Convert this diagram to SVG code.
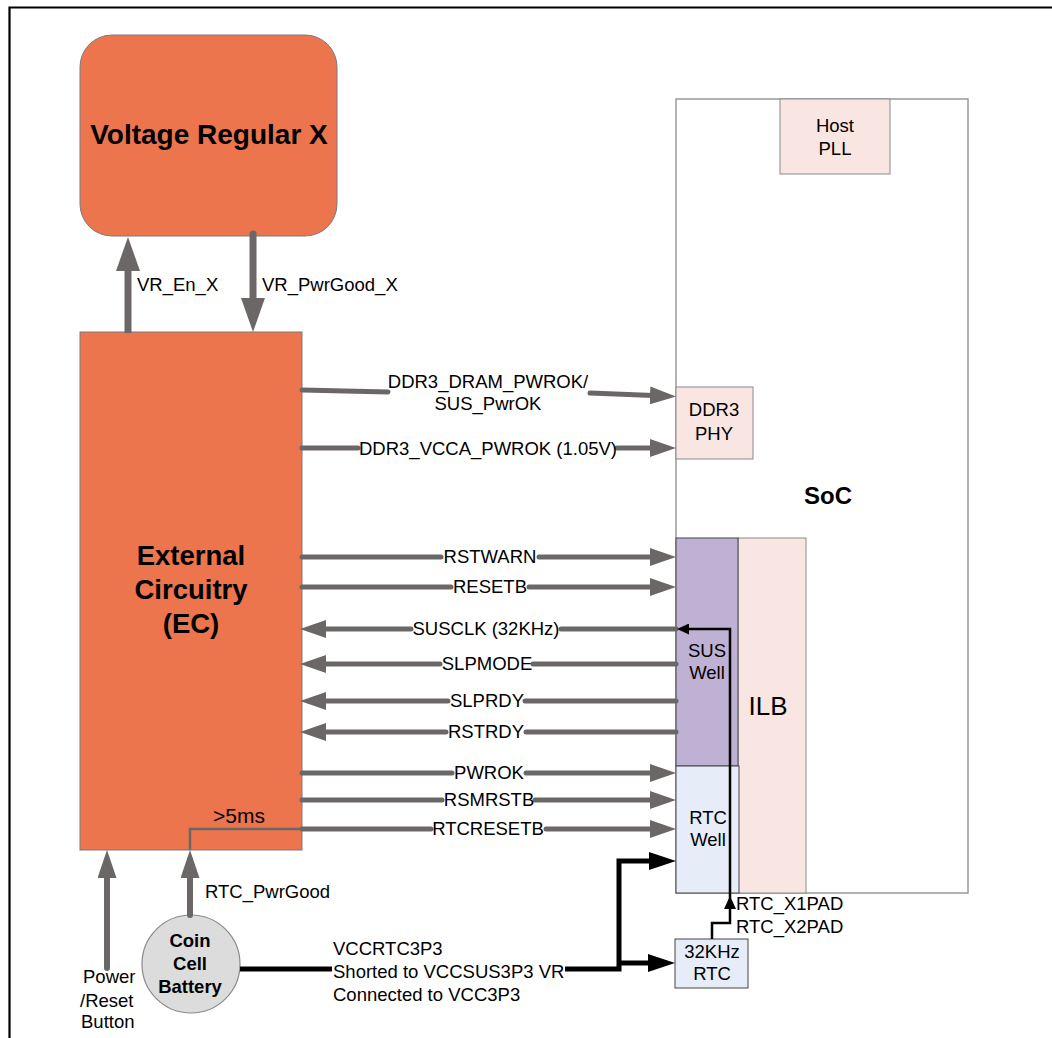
<svg xmlns="http://www.w3.org/2000/svg" width="1052" height="1038" viewBox="0 0 1052 1038">
<style>
text{font-family:"Liberation Sans",Arial,sans-serif;fill:#000}
.lbl{font-size:18.5px}
.mid{text-anchor:middle}
.b{font-weight:bold}
.orange{fill:#ED754E;stroke:#7a7a7a;stroke-width:1}
.g{fill:none;stroke:#6B6767;stroke-width:5;stroke-linecap:round}
.gt{fill:none;stroke:#6B6767;stroke-width:2.5}
.k{fill:none;stroke:#000;stroke-width:5}
.kt{fill:none;stroke:#000;stroke-width:2.5}
</style>
<defs>
<marker id="ag" markerUnits="userSpaceOnUse" markerWidth="26" markerHeight="18" viewBox="0 0 26 18" refX="16" refY="9" orient="auto"><path d="M0,0 L26,9 L0,18 z" fill="#6B6767"/></marker>
<marker id="agBig" markerUnits="userSpaceOnUse" markerWidth="34" markerHeight="24" viewBox="0 0 34 24" refX="19" refY="12" orient="auto"><path d="M0,0 L34,12 L0,24 z" fill="#6B6767"/></marker>
<marker id="agMid" markerUnits="userSpaceOnUse" markerWidth="28" markerHeight="19" viewBox="0 0 28 19" refX="18" refY="9.5" orient="auto"><path d="M0,0 L28,9.5 L0,19 z" fill="#6B6767"/></marker>
<marker id="ak" markerUnits="userSpaceOnUse" markerWidth="27" markerHeight="18" viewBox="0 0 27 18" refX="17" refY="9" orient="auto"><path d="M0,0 L27,9 L0,18 z" fill="#000"/></marker>
<marker id="akS" markerUnits="userSpaceOnUse" markerWidth="12" markerHeight="11" viewBox="0 0 12 11" refX="6" refY="5.5" orient="auto"><path d="M0,0 L12,5.5 L0,11 z" fill="#000"/></marker>
</defs>
<rect width="1052" height="1038" fill="#fff"/>
<g id="frame" fill="none" stroke="#000" stroke-width="2.2">
<path d="M9.5,1038 V7.5 H1052"/>
</g>

<g id="soc">
<rect x="676" y="99" width="292" height="794" fill="#fff" stroke="#9a9a9a" stroke-width="1.5"/>
<text class="b mid" x="828" y="504" style="font-size:24px">SoC</text>
</g>
<g id="host-pll">
<rect x="780" y="99" width="110" height="75" fill="#F9E5E2" stroke="#8a8a8a" stroke-width="1"/>
<text class="lbl mid" x="835" y="132">Host</text>
<text class="lbl mid" x="835" y="155">PLL</text>
</g>
<g id="ddr3-phy">
<rect x="676" y="387" width="77" height="72" fill="#F9E5E2" stroke="#8a8a8a" stroke-width="1"/>
<text class="lbl mid" x="714" y="416">DDR3</text>
<text class="lbl mid" x="714" y="440">PHY</text>
</g>
<g id="ilb">
<rect x="738" y="538" width="68" height="355" fill="#F9E5E2" stroke="#8a8a8a" stroke-width="1"/>
<text class="mid" x="768" y="715" style="font-size:26px">ILB</text>
</g>
<g id="sus-well">
<rect x="676" y="538" width="62" height="228" fill="#BFB1D3" stroke="#444" stroke-width="1"/>
<text class="lbl mid" x="707" y="657">SUS</text>
<text class="lbl mid" x="707" y="679">Well</text>
</g>
<g id="rtc-well">
<rect x="676" y="766" width="63" height="127" fill="#E6EDF8" stroke="#444" stroke-width="1"/>
<text class="lbl mid" x="708" y="824">RTC</text>
<text class="lbl mid" x="708" y="846">Well</text>
</g>
<g id="rtc-32k">
<rect x="675" y="939" width="73" height="49" fill="#E6EDF8" stroke="#444" stroke-width="1"/>
<text class="lbl mid" x="712" y="958">32KHz</text>
<text class="lbl mid" x="712" y="980">RTC</text>
</g>
<g id="vr">
<rect class="orange" x="80" y="35" width="257" height="201" rx="32" ry="32"/>
<text class="b mid" x="209" y="144" style="font-size:28px">Voltage Regular X</text>
</g>
<g id="ec">
<rect class="orange" x="80" y="332" width="222" height="518"/>
<text class="b mid" x="191" y="565" style="font-size:27.5px">External</text>
<text class="b mid" x="191" y="599" style="font-size:27.5px">Circuitry</text>
<text class="b mid" x="191" y="633" style="font-size:27.5px">(EC)</text>
</g>
<g id="battery">
<circle cx="191" cy="964" r="49" fill="#DCDCDC" stroke="#8a8a8a" stroke-width="1.2"/>
<text class="b mid" x="190" y="947" style="font-size:18.5px">Coin</text>
<text class="b mid" x="190" y="970" style="font-size:18.5px">Cell</text>
<text class="b mid" x="190" y="993" style="font-size:18.5px">Battery</text>
</g>
<g id="power-button">
<text class="lbl" x="83" y="983">Power</text>
<text class="lbl" x="80" y="1007">/Reset</text>
<text class="lbl" x="81" y="1028">Button</text>
</g>

<g id="connectors">
<path class="g" d="M128,333 V252" marker-end="url(#agBig)" style="stroke-width:7;stroke-linecap:butt"/>
<path class="g" d="M253,234 V317" marker-end="url(#agBig)" style="stroke-width:7"/>
<text class="lbl" x="137" y="291">VR_En_X</text>
<text class="lbl" x="262" y="291">VR_PwrGood_X</text>

<path class="g" d="M302,390 L388,392"/>
<path class="g" d="M590,393 L666,396" marker-end="url(#ag)"/>
<text class="lbl mid" x="488" y="388">DDR3_DRAM_PWROK/</text>
<text class="lbl mid" x="488" y="410">SUS_PwrOK</text>

<path class="g" d="M302,448 H358"/><path class="g" d="M617,448 H666" marker-end="url(#ag)"/>
<text class="lbl mid" x="488" y="455">DDR3_VCCA_PWROK (1.05V)</text>

<path class="g" d="M302,557 H441"/><path class="g" d="M539,557 H666" marker-end="url(#ag)"/>
<text class="lbl mid" x="490" y="563">RSTWARN</text>

<path class="g" d="M302,587 H451"/><path class="g" d="M529,587 H666" marker-end="url(#ag)"/>
<text class="lbl mid" x="490" y="593">RESETB</text>

<path class="g" d="M676,629 H561"/><path class="g" d="M411,629 H310" marker-end="url(#ag)"/>
<text class="lbl mid" x="486" y="635">SUSCLK (32KHz)</text>

<path class="g" d="M676,664 H533"/><path class="g" d="M440,664 H310" marker-end="url(#ag)"/>
<text class="lbl mid" x="487" y="670">SLPMODE</text>

<path class="g" d="M676,701 H525"/><path class="g" d="M448,701 H310" marker-end="url(#ag)"/>
<text class="lbl mid" x="487" y="707">SLPRDY</text>

<path class="g" d="M676,732 H526"/><path class="g" d="M446,732 H310" marker-end="url(#ag)"/>
<text class="lbl mid" x="486" y="738">RSTRDY</text>

<path class="g" d="M302,773 H452"/><path class="g" d="M526,773 H666" marker-end="url(#ag)"/>
<text class="lbl mid" x="489" y="779">PWROK</text>

<path class="g" d="M302,800 H442"/><path class="g" d="M535,800 H666" marker-end="url(#ag)"/>
<text class="lbl mid" x="489" y="806">RSMRSTB</text>

<path class="gt" d="M190,850 V829 H302"/>
<path class="g" d="M302,829 H431"/><path class="g" d="M546,829 H666" marker-end="url(#ag)"/>
<text class="lbl mid" x="488" y="835">RTCRESETB</text>
<text x="213" y="823" style="font-size:21px">&gt;5ms</text>

<path class="g" d="M107,968 V860" marker-end="url(#agMid)" style="stroke-width:6"/>
<path class="g" d="M190,915 V860" marker-end="url(#agMid)" style="stroke-width:6"/>
<text class="lbl" x="205" y="898">RTC_PwrGood</text>

<path class="k" d="M240,969 H332"/>
<path class="k" d="M565,969 H619 V861 H666" marker-end="url(#ak)"/>
<path class="k" d="M619,963 H665" marker-end="url(#ak)"/>
<text class="lbl" x="333" y="955">VCCRTC3P3</text>
<text class="lbl" x="333" y="978">Shorted to VCCSUS3P3 VR</text>
<text class="lbl" x="333" y="1001">Connected to VCC3P3</text>

<path class="kt" d="M712,939 V923 H730 V629 H683" marker-end="url(#akS)"/>
<path d="M730,896 L724,909 L736,909 z" fill="#000"/>
<text class="lbl" x="736" y="910">RTC_X1PAD</text>
<text class="lbl" x="736" y="933">RTC_X2PAD</text>
</g>
</svg>
